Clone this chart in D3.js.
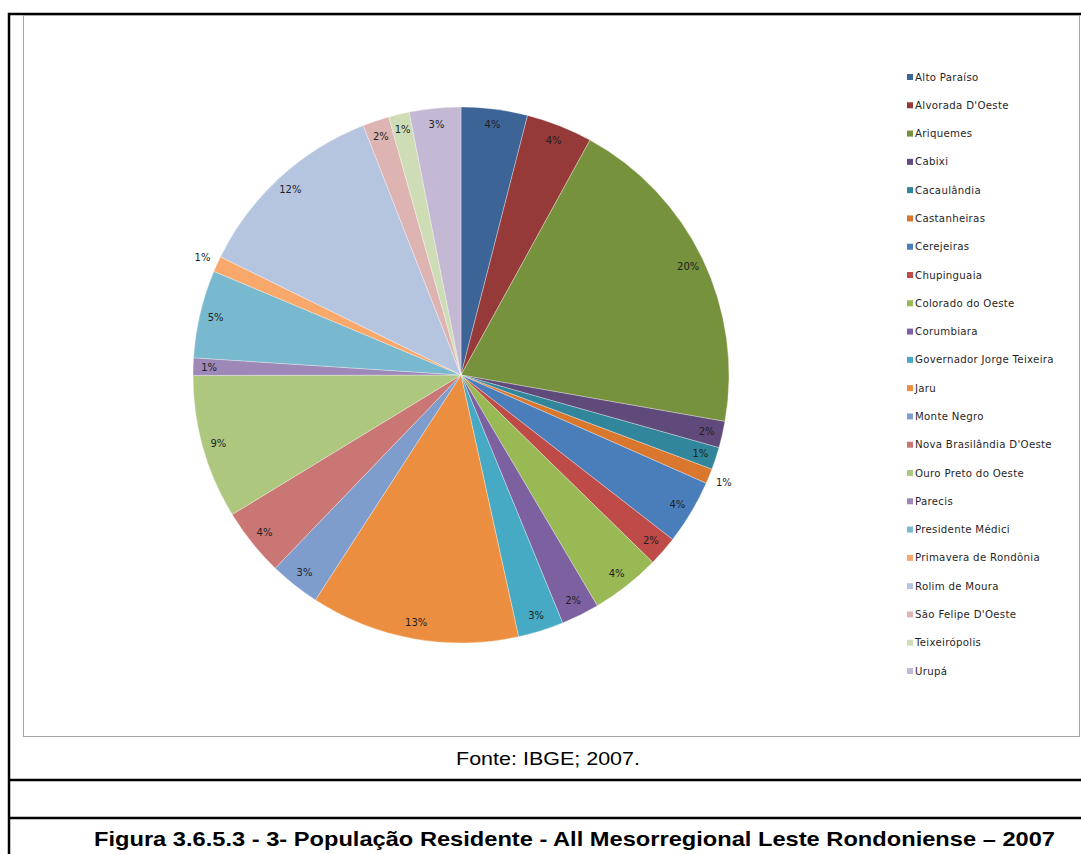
<!DOCTYPE html>
<html>
<head>
<meta charset="utf-8">
<script src="https://cdn.jsdelivr.net/npm/d3@7"></script>
<style>
  body { margin: 0; background: #fff; }
  svg { display: block; }
</style>
</head>
<body>
<div id="chart"></div>
<script>
// municipalities (legend order = slice order, clockwise from 12 o'clock)
const municipios = [
  "Alto Paraíso", "Alvorada D'Oeste", "Ariquemes", "Cabixi", "Cacaulândia",
  "Castanheiras", "Cerejeiras", "Chupinguaia", "Colorado do Oeste", "Corumbiara",
  "Governador Jorge Teixeira", "Jaru", "Monte Negro", "Nova Brasilândia  D'Oeste",
  "Ouro Preto  do Oeste", "Parecis", "Presidente  Médici", "Primavera  de Rondônia",
  "Rolim de Moura", "São Felipe D'Oeste", "Teixeirópolis", "Urupá"
];

// share of resident population (%)
const populacao = [
  4.0, 4.0, 19.8, 1.6, 1.35,
  0.9, 3.9, 1.8, 4.2, 2.3,
  2.75, 12.6, 3.05, 4.1, 8.7,
  1.05, 5.3, 0.95, 11.8, 1.6,
  1.25, 3.1
];

const cores = [
  "#3c6497", "#953a38", "#77923d", "#5f4a7b", "#31869b",
  "#d9772e", "#4a7ebb", "#be4b48", "#98b954", "#7d60a0",
  "#46aac5", "#ec8e3f", "#7e9dcc", "#c97674", "#aec77e",
  "#9d88b8", "#78b9cf", "#f8a86a", "#b6c5df", "#deb4b3",
  "#cfddb7", "#c3b9d4"
];

const fonte = "Fonte: IBGE; 2007.";
const titulo = "Figura 3.6.5.3 - 3- População Residente - All Mesorregional Leste Rondoniense – 2007";

const width = 1081, height = 854;

const svg = d3.select("#chart")
  .append("svg")
    .attr("width", width)
    .attr("height", height);

// outer table frame
const frame = svg.append("g")
    .attr("stroke", "#000")
    .attr("stroke-width", 2.5)
    .attr("fill", "none");
frame.append("path").attr("d", "M9,860 V14 H1090");
frame.append("line").attr("x1", 9).attr("x2", 1090).attr("y1", 780).attr("y2", 780);
frame.append("line").attr("x1", 9).attr("x2", 1090).attr("y1", 818).attr("y2", 818);

// chart area border
svg.append("rect")
    .attr("x", 23.5).attr("y", 15.5)
    .attr("width", 1056).attr("height", 721)
    .attr("fill", "#fff")
    .attr("stroke", "#a6a6a6")
    .attr("stroke-width", 1);

const cx = 461, cy = 375, radius = 268;

const pie = d3.pie().sort(null).value(d => d);
const arcs = pie(populacao);
const arc = d3.arc().innerRadius(0).outerRadius(radius);
const color = d3.scaleOrdinal().domain(municipios).range(cores);

const g = svg.append("g")
    .attr("transform", "translate(" + cx + "," + cy + ")");

g.selectAll("path.slice")
  .data(arcs)
  .enter()
  .append("path")
    .attr("class", "slice")
    .attr("d", arc)
    .attr("fill", (d, i) => color(municipios[i]))
    .attr("stroke", "#fff")
    .attr("stroke-opacity", 0.45)
    .attr("stroke-width", 0.7);

// data labels: inside end, the tiniest ones pushed outside
const labelIn = d3.arc().innerRadius(252).outerRadius(252);
const labelOut = d3.arc().innerRadius(284).outerRadius(284);

g.selectAll("text.pct")
  .data(arcs)
  .enter()
  .append("text")
    .attr("class", "pct")
    .attr("transform", d => "translate(" + (d.data < 1 ? labelOut : labelIn).centroid(d) + ")")
    .attr("text-anchor", "middle")
    .attr("dy", "0.35em")
    .style("font-family", "'DejaVu Sans', sans-serif")
    .style("font-size", "10px")
    .style("fill", "#1f1f1f")
    .text(d => Math.round(d.data) + "%");

// legend
const legendY = d3.scalePoint()
    .domain(municipios)
    .range([77, 671]);

const legend = svg.append("g")
  .selectAll("g")
  .data(municipios)
  .enter()
  .append("g")
    .attr("transform", d => "translate(907," + legendY(d) + ")");

legend.append("rect")
    .attr("x", 0).attr("y", -3)
    .attr("width", 6).attr("height", 6)
    .attr("fill", d => color(d));

legend.append("text")
    .attr("x", 8)
    .attr("dy", "0.35em")
    .style("font-family", "'DejaVu Sans', sans-serif")
    .style("font-size", "10.2px")
    .style("letter-spacing", "0.3px")
    .style("fill", "#1f1f1f")
    .text(d => d);

// source and caption
svg.append("text")
    .attr("x", 456).attr("y", 765)
    .attr("textLength", 184)
    .attr("lengthAdjust", "spacingAndGlyphs")
    .style("font-family", "'Liberation Sans', Arial, sans-serif")
    .style("font-size", "19px")
    .style("fill", "#000")
    .text(fonte);

svg.append("text")
    .attr("x", 94).attr("y", 846)
    .attr("textLength", 961)
    .attr("lengthAdjust", "spacingAndGlyphs")
    .style("font-family", "'Liberation Sans', Arial, sans-serif")
    .style("font-weight", "bold")
    .style("font-size", "21px")
    .style("fill", "#000")
    .text(titulo);
</script>
</body>
</html>
